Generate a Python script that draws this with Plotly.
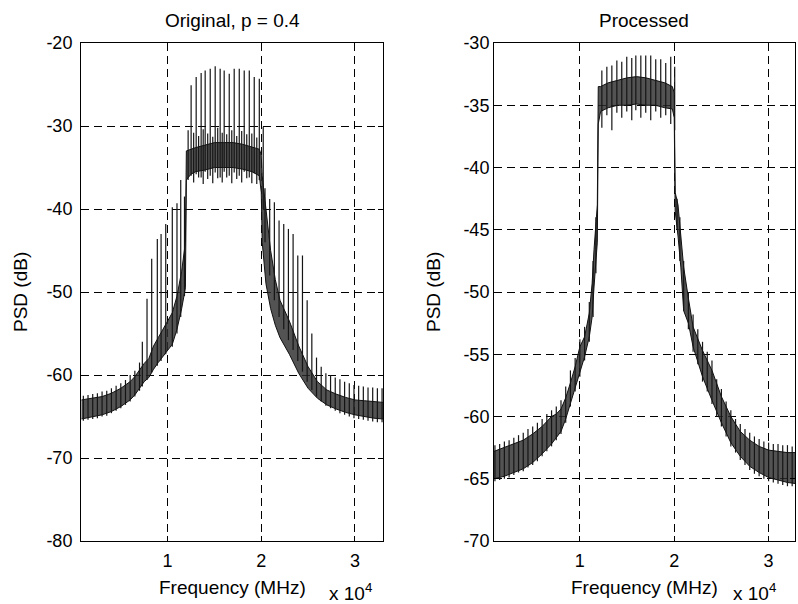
import plotly.graph_objects as go

# ---------------- Data: left panel "Original, p = 0.4" ----------------
orig_env_f = [800, 2000, 3000, 4000, 5000, 6000, 6500, 7000, 7500, 8000, 8500, 9000, 9500,
              10000, 10500, 11000, 11500, 11900, 12000, 12500, 13000, 14000, 15000, 16000,
              17000, 18000, 19000, 19800, 20000, 20100, 20500, 21000, 21500, 22000, 23000,
              24000, 25000, 26000, 27000, 28000, 29000, 30000, 31000, 32000, 33000]
orig_env_lo = [-65.3, -65.0, -64.8, -64.4, -63.8, -63.0, -62.4, -61.6, -60.8, -60.3, -59.3, -58.5, -57.8,
               -57.0, -56.3, -54.5, -52.0, -49.5, -36.5, -35.8, -35.5, -35.3, -35.0, -35.0,
               -35.0, -35.2, -35.5, -36.0, -38.0, -44.0, -49.0, -52.0, -54.0, -55.5, -57.5,
               -59.8, -61.6, -62.8, -63.6, -64.1, -64.5, -64.8, -65.0, -65.2, -65.3]
orig_env_hi = [-63.0, -62.8, -62.6, -62.2, -61.6, -60.8, -60.2, -59.4, -58.6, -58.0, -56.5, -55.5, -54.5,
               -53.5, -52.5, -50.5, -47.5, -44.0, -33.0, -32.8, -32.6, -32.3, -32.0, -32.0,
               -32.0, -32.2, -32.5, -32.8, -33.5, -36.0, -40.0, -45.0, -48.5, -51.0, -53.5,
               -56.5, -59.0, -60.8, -61.8, -62.3, -62.7, -63.0, -63.1, -63.2, -63.3]

orig_spk_f = [1000, 1500, 2000, 2500, 3000, 3500, 4000, 4500, 5000, 5500, 6000, 6500, 7000,
              7300, 7800, 8300, 8900, 9300, 9800, 10500, 11000, 11400, 11800,
              12190, 12510, 13050, 13580, 14010, 14550, 15080, 15610, 16040, 16580, 17110,
              17650, 18180, 18720, 19250, 19790, 20210,
              20400, 20900, 21400, 21900, 22400, 22900, 23400, 23900, 24400, 24900, 25400,
              25900, 26400, 26900, 27400, 27900, 28400, 28900, 29400, 29900, 30400, 30900,
              31400, 31900, 32400, 32900]
orig_spk_bot = [-65.5, -65.4, -65.3, -65.2, -65.0, -64.9, -64.6, -64.3, -64.0, -63.6, -63.2, -62.6, -61.9,
                -61.4, -60.6, -59.7, -58.9, -58.3, -57.5, -56.6, -55.0, -53.0, -50.5,
                -36.5, -36.0, -35.8, -36.2, -35.5, -36.0, -35.6, -36.2, -35.5, -36.0, -35.6,
                -36.0, -35.5, -36.2, -35.7, -36.5, -40.0,
                -44.0, -48.0, -51.0, -53.0, -54.5, -55.8, -57.0, -58.3, -59.6, -60.8, -61.8,
                -62.6, -63.2, -63.7, -64.0, -64.3, -64.6, -64.8, -65.0, -65.2, -65.3, -65.4,
                -65.5, -65.6, -65.7, -65.7]
orig_spk_top = [-62.5, -62.4, -62.3, -62.2, -62.0, -61.9, -61.6, -61.3, -61.0, -60.6, -60.0, -59.5, -58.5,
                -56.0, -50.8, -46.0, -43.6, -43.0, -41.8, -39.8, -39.3, -36.5, -38.5,
                -30.5, -25.1, -24.1, -23.6, -23.3, -23.1, -22.8, -23.1, -23.3, -23.7, -23.1,
                -23.1, -23.3, -23.3, -24.1, -24.3, -30.1,
                -37.5, -38.8, -39.2, -41.4, -41.8, -42.4, -43.0, -45.6, -45.6, -51.0, -55.0,
                -57.9, -59.0, -59.8, -60.0, -60.3, -60.5, -60.8, -61.0, -61.2, -61.3, -61.4,
                -61.5, -61.5, -61.6, -61.6]

# medium spikes between the tall pass-band spikes
orig_mid_f = [12780, 13310, 13800, 14280, 14820, 15350, 15830, 16310, 16850, 17380, 17910, 18450, 18990, 19520]
orig_mid_bot = [-36.8, -36.2, -37.0, -36.4, -36.9, -36.3, -36.8, -36.2, -36.9, -36.4, -36.8, -36.3, -36.9, -37.0]
orig_mid_top = [-30.8, -31.2, -30.4, -30.9, -31.3, -30.2, -30.8, -31.0, -30.5, -31.2, -30.6, -31.0, -30.9, -31.4]

# ---------------- Data: right panel "Processed" ----------------
proc_env_f = [900, 2000, 3000, 4000, 5000, 6000, 7000, 7500, 8000, 8500, 9000, 9500, 10000,
              10500, 11000, 11300, 11500, 11700, 11850, 11950, 12200, 13000, 14000, 15000,
              16000, 17000, 18000, 19000, 19800, 20000, 20100, 20400, 20700, 21000, 21500,
              22000, 23000, 24000, 25000, 26000, 27000, 28000, 29000, 30000, 31000, 32000, 33000]
proc_env_lo = [-65.0, -64.8, -64.5, -64.2, -63.7, -63.0, -62.2, -61.7, -61.2, -60.2, -58.9, -57.8, -56.5,
               -55.2, -53.6, -52.0, -49.6, -47.0, -46.0, -36.5, -35.5, -35.2, -35.0, -35.0,
               -34.9, -35.0, -35.0, -35.2, -35.3, -36.0, -43.5, -45.5, -48.0, -51.5, -52.5,
               -54.4, -56.8, -58.7, -60.5, -62.1, -63.2, -64.0, -64.5, -64.9, -65.1, -65.3, -65.4]
proc_env_hi = [-62.8, -62.5, -62.2, -61.9, -61.4, -60.8, -60.0, -59.8, -59.4, -58.5, -57.3, -56.0, -54.4,
               -53.6, -51.7, -49.3, -46.6, -44.3, -43.0, -33.5, -33.5, -33.2, -33.0, -32.8,
               -32.7, -32.8, -33.0, -33.2, -33.5, -34.0, -42.0, -43.0, -45.5, -48.0, -50.5,
               -52.8, -54.7, -56.3, -58.4, -60.0, -61.2, -61.9, -62.4, -62.7, -62.8, -62.9, -62.9]

proc_spk_f = [1000, 1500, 2000, 2500, 3000, 3500, 4000, 4500, 5000, 5500, 6000, 6500, 7000, 7500,
              8000, 8500, 9000, 9500, 10000, 10500, 11000, 11400, 11700,
              12330, 12860, 13390, 13920, 14440, 14970, 15500, 15930, 16460, 16980, 17510,
              18040, 18570, 19100, 19630, 20050,
              20300, 20600, 21000, 21500, 22000, 22500, 23000, 23500, 24000, 24500, 25000,
              25500, 26000, 26500, 27000, 27500, 28000, 28500, 29000, 29500, 30000, 30500,
              31000, 31500, 32000, 32500, 33000]
proc_spk_bot = [-65.2, -65.1, -65.0, -64.9, -64.7, -64.5, -64.4, -64.1, -63.9, -63.6, -63.2, -62.8, -62.4, -61.9,
                -61.4, -60.5, -59.2, -58.0, -56.8, -55.5, -54.0, -52.0, -48.5,
                -36.8, -35.8, -37.0, -35.6, -36.0, -35.5, -36.2, -35.4, -36.0, -35.6, -36.2,
                -35.5, -36.0, -35.8, -36.5, -37.0,
                -45.0, -47.5, -51.5, -53.0, -54.8, -55.8, -57.2, -58.0, -59.0, -60.0, -60.8,
                -61.6, -62.4, -62.9, -63.5, -63.9, -64.3, -64.6, -64.8, -65.0, -65.2, -65.3,
                -65.4, -65.5, -65.6, -65.6, -65.7]
proc_spk_top = [-62.3, -62.2, -62.0, -61.9, -61.7, -61.5, -61.3, -61.0, -60.8, -60.5, -60.2, -59.8, -59.5, -59.2,
                -58.7, -57.6, -56.3, -55.3, -53.8, -52.8, -50.8, -47.5, -44.0,
                -32.2, -31.9, -31.8, -31.4, -31.5, -31.1, -31.2, -31.0, -31.0, -31.0, -31.0,
                -31.3, -31.3, -31.6, -31.1, -31.9,
                -42.5, -44.0, -47.5, -50.0, -51.8, -53.0, -54.0, -54.8, -55.5, -57.0, -57.8,
                -58.8, -59.5, -60.2, -60.6, -61.0, -61.3, -61.6, -61.8, -62.0, -62.1, -62.2,
                -62.2, -62.3, -62.3, -62.4, -62.4]

x_tickvals = [10000, 20000, 30000]
x_ticktext = ["1", "2", "3"]
orig_yticks = [-80, -70, -60, -50, -40, -30, -20]
orig_yticktext = ["-80", "-70", "-60", "-50", "-40", "-30", "-20"]
proc_yticks = [-70, -65, -60, -55, -50, -45, -40, -35, -30]
proc_yticktext = ["-70", "-65", "-60", "-55", "-50", "-45", "-40", "-35", "-30"]

# ---------------- Figure ----------------
FONT = "Liberation Sans, Arial, Helvetica, sans-serif"
W, H = 798, 604
ML, MR, MT, MB = 81, 3, 43, 63
PW, PH = W - ML - MR, H - MT - MB


def px_x(p):
    return (p - ML) / PW


def px_y(p):
    return (H - MB - p) / PH


fig = go.Figure()


def add_panel(xa, ya, ef, elo, ehi, sf, sbot, stop, extra=None):
    fig.add_trace(go.Scatter(x=ef, y=elo, mode="lines", line=dict(color="#111111", width=1),
                             xaxis=xa, yaxis=ya, showlegend=False, hoverinfo="skip"))
    fig.add_trace(go.Scatter(x=ef, y=ehi, mode="lines", line=dict(color="#111111", width=1),
                             fill="tonexty", fillcolor="rgba(45,45,45,0.82)",
                             xaxis=xa, yaxis=ya, showlegend=False, hoverinfo="skip"))
    groups = [(sf, sbot, stop)]
    if extra is not None:
        groups.append(extra)
    for gf, gb, gt in groups:
        xs, ys = [], []
        for f, b, t in zip(gf, gb, gt):
            xs += [f, f, None]
            ys += [b, t, None]
        fig.add_trace(go.Scatter(x=xs, y=ys, mode="lines", line=dict(color="#151515", width=1.2),
                                 xaxis=xa, yaxis=ya, showlegend=False, hoverinfo="skip"))


add_panel("x", "y", orig_env_f, orig_env_lo, orig_env_hi, orig_spk_f, orig_spk_bot, orig_spk_top,
          (orig_mid_f, orig_mid_bot, orig_mid_top))
add_panel("x2", "y2", proc_env_f, proc_env_lo, proc_env_hi, proc_spk_f, proc_spk_bot, proc_spk_top)

axis_common = dict(showline=True, linecolor="black", linewidth=1, mirror="ticks",
                   ticks="inside", ticklen=5, tickcolor="black",
                   showgrid=True, gridcolor="black", gridwidth=1, griddash="8px,5px",
                   zeroline=False, tickfont=dict(family=FONT, size=18, color="black"))

fig.update_layout(
    width=W, height=H,
    margin=dict(l=ML, r=MR, t=MT, b=MB),
    paper_bgcolor="white", plot_bgcolor="white",
    xaxis=dict(domain=[0, px_x(383)], range=[750, 33000], tickvals=x_tickvals, ticktext=x_ticktext,
               ticklabelstandoff=3, **axis_common),
    yaxis=dict(domain=[0, 1], range=[-80, -20], tickvals=orig_yticks, ticktext=orig_yticktext,
               ticklabelstandoff=4, **axis_common),
    xaxis2=dict(domain=[px_x(494), 1], range=[900, 32800], tickvals=x_tickvals, ticktext=x_ticktext,
                anchor="y2", ticklabelstandoff=3, **axis_common),
    yaxis2=dict(domain=[0, 1], range=[-70, -30], tickvals=proc_yticks, ticktext=proc_yticktext,
                anchor="x2", ticklabelstandoff=0, **axis_common),
)

txt = dict(family=FONT, size=19, color="black")
ann = [
    dict(text="Original, p = 0.4", x=px_x(232), y=px_y(21)),
    dict(text="Processed", x=px_x(644), y=px_y(21)),
    dict(text="Frequency (MHz)", x=px_x(232), y=px_y(587)),
    dict(text="Frequency (MHz)", x=px_x(644), y=px_y(587)),
    dict(text="x 10<sup>4</sup>", x=px_x(350), y=px_y(592)),
    dict(text="x 10<sup>4</sup>", x=px_x(754), y=px_y(592)),
    dict(text="PSD (dB)", x=px_x(20), y=px_y(292), textangle=-90),
    dict(text="PSD (dB)", x=px_x(433), y=px_y(292), textangle=-90),
]
for a in ann:
    fig.add_annotation(xref="paper", yref="paper", showarrow=False, xanchor="center", yanchor="middle",
                       font=txt, **a)

fig.write_html("out.html")
